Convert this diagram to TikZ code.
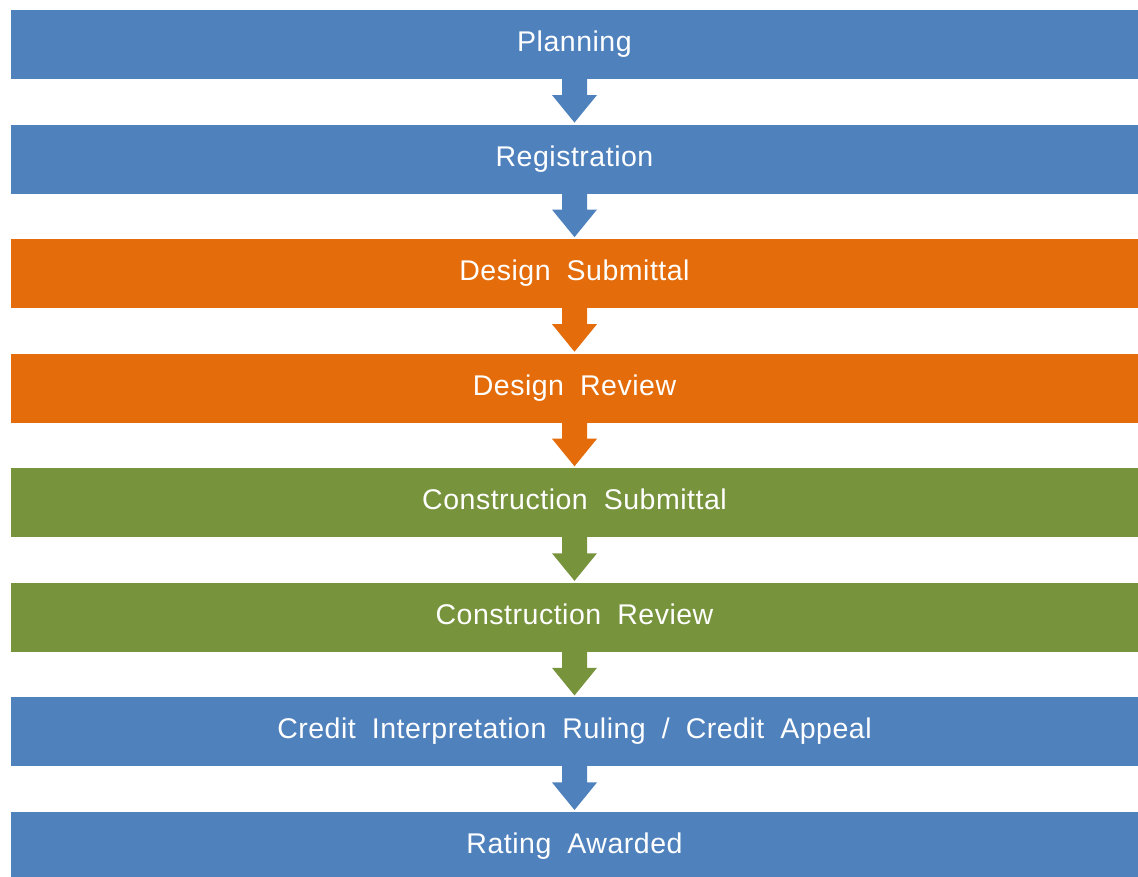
\documentclass[tikz,border=0pt]{standalone}
\usepackage{fontspec}
\setmainfont{Liberation Sans}[LetterSpace=1.8, WordSpace=1.9]
\usetikzlibrary{positioning, calc}
\definecolor{stepblue}{HTML}{4F81BD}
\definecolor{steporange}{HTML}{E46C0A}
\definecolor{stepgreen}{HTML}{77933C}

\begin{document}
\begin{tikzpicture}[x = 1pt, y = 1pt, node distance = 45.57pt,
    bar/.style = {rectangle, minimum width = 1127pt, minimum height = 69pt, inner sep = 0pt, outer sep = 0pt,
        text = white, font = \fontsize{28.5}{33}\selectfont, text height = 20pt, text depth = 6pt}]
    \useasboundingbox (0,0) rectangle (1138,-876);

    \node [bar, fill = stepblue] (plan) at (574.5,-44.5) {Planning};
    \node [bar, fill = stepblue, below = of plan] (reg) {Registration};
    \node [bar, fill = steporange, below = of reg] (dsub) {Design Submittal};
    \node [bar, fill = steporange, below = of dsub] (drev) {Design Review};
    \node [bar, fill = stepgreen, below = of drev] (csub) {Construction Submittal};
    \node [bar, fill = stepgreen, below = of csub] (crev) {Construction Review};
    \node [bar, fill = stepblue, below = of crev] (cir) {Credit Interpretation Ruling / Credit Appeal};
    \node [bar, fill = stepblue, below = of cir] (rate) {Rating Awarded};

    %% block arrows between the steps
    \foreach \a/\b/\c in {plan/reg/stepblue, reg/dsub/stepblue, dsub/drev/steporange,
        drev/csub/steporange, csub/crev/stepgreen, crev/cir/stepgreen, cir/rate/stepblue}
    {
        \fill[\c] ($(\a.south) + (-12.5,1)$) -- ++(0,-17) -- ++(-10,0) -- ($(\b.north) + (0,2)$)
            -- ($(\a.south) + (22.5,-16)$) -- ++(-10,0) -- ++(0,17) -- cycle;
    }

\end{tikzpicture}
\end{document}
